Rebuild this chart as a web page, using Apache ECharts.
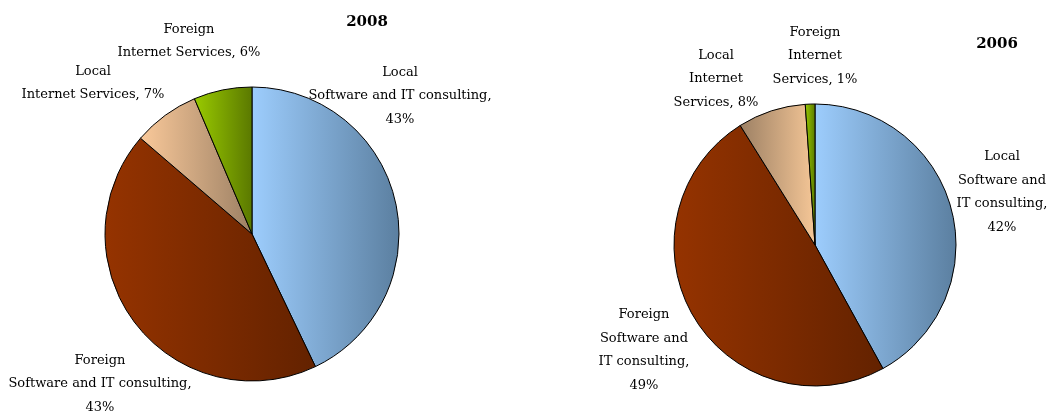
<!DOCTYPE html>
<html>
<head>
<meta charset="utf-8">
<script src="https://cdn.jsdelivr.net/npm/echarts@6/dist/echarts.min.js"></script>
<style>
  html, body { margin: 0; padding: 0; background: #fff; }
  #chart { width: 1051px; height: 416px; }
</style>
</head>
<body>
<div id="chart"></div>
<script>
// categories, clockwise from 12 o'clock
const categories = [
  'Local Software and IT consulting',
  'Foreign Software and IT consulting',
  'Local Internet Services',
  'Foreign Internet Services'
];
// slice shares (labels show rounded %)
const values2008 = [42.9, 43.4, 7.3, 6.4];
const values2006 = [42.0, 49.1, 7.8, 1.1];
// label wording as wrapped in the original (percent is appended)
const labels2008 = [
  'Local\nSoftware and IT consulting,\n',
  'Foreign\nSoftware and IT consulting,\n',
  'Local\nInternet Services, ',
  'Foreign\nInternet Services, '
];
const labels2006 = [
  'Local\nSoftware and\nIT consulting,\n',
  'Foreign\nSoftware and\nIT consulting,\n',
  'Local\nInternet\nServices, ',
  'Foreign\nInternet\nServices, '
];
const titles = ['2008', '2006'];

const FONT = 'DejaVu Serif';

const grad = (left, right) => ({
  type: 'linear', x: 0, y: 0, x2: 1, y2: 0,
  colorStops: [{ offset: 0, color: left }, { offset: 1, color: right }]
});

const colors2008 = [
  grad('#9dcdfd', '#5b7fa0'),
  grad('#953300', '#632200'),
  grad('#fac99a', '#9c8064'),
  grad('#9acb00', '#5a7800')
];
const colors2006 = [
  grad('#9dcdfd', '#5b7fa0'),
  grad('#953300', '#632200'),
  grad('#9c8064', '#f6c797'),
  grad('#9acb00', '#5a7800')
];

// label centres (pixels) per slice
const labelPos2008 = [[400, 96], [100, 384], [93, 83], [189, 41]];
const labelPos2006 = [[1002, 192], [644, 350], [716, 79], [815, 56]];

function buildData(values, labels, colors) {
  return values.map((v, i) => ({
    value: v,
    name: categories[i],
    labelText: labels[i],
    itemStyle: { color: colors[i] }
  }));
}

function pieSeries(values, labels, colors, center, radius, pos) {
  return {
    type: 'pie',
    center: center,
    radius: radius,
    startAngle: 90,
    clockwise: true,
    animation: false,
    silent: true,
    itemStyle: { borderColor: '#000', borderWidth: 1 },
    label: {
      show: true,
      position: 'inside',
      fontFamily: FONT,
      fontSize: 13,
      lineHeight: 23.5,
      color: '#000',
      align: 'center',
      overflow: 'none',
      formatter: p => p.data.labelText + Math.round(p.percent) + '%'
    },
    labelLine: { show: false },
    labelLayout: p => ({
      x: pos[p.dataIndex][0],
      y: pos[p.dataIndex][1],
      align: 'center',
      verticalAlign: 'middle'
    }),
    data: buildData(values, labels, colors)
  };
}

const titleStyle = { fontFamily: FONT, fontSize: 15, fontWeight: 'bold', color: '#000' };

const chart = echarts.init(document.getElementById('chart'));
chart.setOption({
  backgroundColor: '#fff',
  title: [
    { text: titles[0], left: 362, top: 17, textAlign: 'center', textVerticalAlign: 'middle',
      textStyle: titleStyle },
    { text: titles[1], left: 992, top: 39, textAlign: 'center', textVerticalAlign: 'middle',
      textStyle: titleStyle }
  ],
  series: [
    pieSeries(values2008, labels2008, colors2008, [252, 234], 147, labelPos2008),
    pieSeries(values2006, labels2006, colors2006, [815, 245], 141, labelPos2006)
  ]
});
</script>
</body>
</html>
